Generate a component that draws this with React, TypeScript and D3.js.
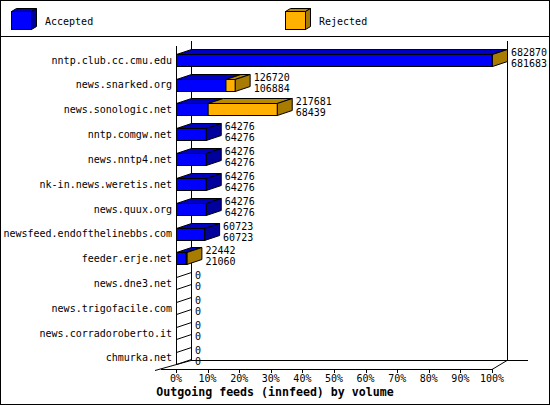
import React from 'react';
import * as d3 from 'd3'

// innfeed outgoing feeds, volume per peer
const hosts = [
  'nntp.club.cc.cmu.edu',
  'news.snarked.org',
  'news.sonologic.net',
  'nntp.comgw.net',
  'news.nntp4.net',
  'nk-in.news.weretis.net',
  'news.quux.org',
  'newsfeed.endofthelinebbs.com',
  'feeder.erje.net',
  'news.dne3.net',
  'news.trigofacile.com',
  'news.corradoroberto.it',
  'chmurka.net',
]
const offered = [682870, 126720, 217681, 64276, 64276, 64276, 64276, 60723, 22442, 0, 0, 0, 0]
const accepted = [681683, 106884, 68439, 64276, 64276, 64276, 64276, 60723, 21060, 0, 0, 0, 0]
const percentTicks = [0, 10, 20, 30, 40, 50, 60, 70, 80, 90, 100]
const seriesNames = ['Accepted', 'Rejected']

const W = 550
const H = 405
const FONT = '"DejaVu Sans Mono", monospace'
const DX = 15
const DY = 5
const colors = [
  { front: '#0000ff', top: '#0000c4', side: '#00009c' },
  { front: '#ffb000', top: '#b88a00', side: '#a87c00' },
]

interface IProps {}
interface IState {}
let chartRef: any = ''

class App extends React.Component<IProps, IState> {
  componentDidMount() {
    document.body.style.margin = '0'
    const svg = d3.select(chartRef).attr('width', W).attr('height', H)
    svg.selectAll('*').remove()

    //外框
    svg.append('rect').attr('x', 0.5).attr('y', 0.5).attr('width', W - 1).attr('height', H - 1)
      .attr('fill', '#fff').attr('stroke', '#000')
    svg.append('line').attr('x1', 0).attr('x2', W).attr('y1', 36.5).attr('y2', 36.5).attr('stroke', '#000')

    //图例
    const legendX = [11, 285]
    seriesNames.forEach((name, i) => {
      const x = legendX[i] + 0.5, y = 11.5, w = 20, h = 18, dx = 5, dy = 3
      const c = colors[i]
      svg.append('polygon')
        .attr('points', [[x, y], [x + dx, y - dy], [x + w + dx, y - dy], [x + w, y]].join(' '))
        .attr('fill', c.top).attr('stroke', '#000')
      svg.append('polygon')
        .attr('points', [[x + w, y], [x + w + dx, y - dy], [x + w + dx, y + h - dy], [x + w, y + h]].join(' '))
        .attr('fill', c.side).attr('stroke', '#000')
      svg.append('rect').attr('x', x).attr('y', y).attr('width', w).attr('height', h)
        .attr('fill', c.front).attr('stroke', '#000')
      svg.append('text').attr('x', legendX[i] + 34).attr('y', 25)
        .attr('font-family', FONT).attr('font-size', 10).text(name)
    })

    //比例尺
    const left = 176, right = 492, top = 46, bottom = 365
    const xscale = d3.scaleLinear().domain([0, d3.max(offered) as number]).range([left, right])
    const pscale = d3.scaleLinear().domain([0, 100]).range([left, right])
    // 行间距 ~24.8px, 第一行中心 y=60
    const yscale = d3.scaleBand().domain(hosts).range([top, 372]).paddingInner(0.5).paddingOuter(0.314)

    //3D 坐标框
    const axis = svg.append('g').attr('stroke', '#000').attr('fill', 'none')
    const ln = (x1, y1, x2, y2) => axis.append('line')
      .attr('x1', x1).attr('y1', y1).attr('x2', x2).attr('y2', y2)
    ln(left + 0.5, top, left + 0.5, bottom)
    ln(left + DX + 0.5, top - DY, left + DX + 0.5, bottom - DY)
    ln(right + DX + 0.5, top - DY, right + DX + 0.5, bottom - DY)
    ln(left + DX, bottom - DY + 0.5, 528, bottom - DY + 0.5)
    ln(155, 370.5, left + DX, bottom - DY + 0.5)
    ln(161, 369.5, right, 369.5)
    ln(right, 369.5, right + DX, bottom - DY + 0.5)
    percentTicks.forEach(p => {
      ln(Math.round(pscale(p)) + 0.5, 369, Math.round(pscale(p)) + 0.5, 373)
    })
    svg.append('g').selectAll('text').data(percentTicks).enter().append('text')
      .attr('x', d => pscale(d)).attr('y', 382).attr('text-anchor', 'middle')
      .attr('font-family', FONT).attr('font-size', 10)
      .text(d => d + '%')

    //类别标签
    const bw = yscale.bandwidth()
    svg.append('g').selectAll('text').data(hosts).enter().append('text')
      .attr('x', 172).attr('y', d => (yscale(d) as number) + bw / 2 + 3.5)
      .attr('text-anchor', 'end').attr('font-family', FONT).attr('font-size', 10)
      .text(d => d)

    //3D 柱
    const bars = svg.append('g').attr('stroke', '#000')
    hosts.forEach((h, i) => {
      const y0 = Math.round(yscale(h) as number) + 0.5
      const y1 = y0 + Math.round(bw)
      const segs = [[0, accepted[i]], [accepted[i], offered[i]]]
      if (offered[i] === 0) {
        bars.append('line').attr('x1', left + 0.5).attr('y1', y0).attr('x2', left + DX + 0.5).attr('y2', y0 - DY)
        bars.append('line').attr('x1', left + 0.5).attr('y1', y1).attr('x2', left + DX + 0.5).attr('y2', y1 - DY)
      } else {
        let lastSeg = 0
        segs.forEach((s, k) => { if (s[1] > s[0]) lastSeg = k })
        segs.forEach((s, k) => {
          if (s[1] <= s[0]) return
          const xa = xscale(s[0]) + 0.5, xb = xscale(s[1]) + 0.5
          const c = colors[k]
          bars.append('polygon')
            .attr('points', [[xa, y0], [xa + DX, y0 - DY], [xb + DX, y0 - DY], [xb, y0]].join(' '))
            .attr('fill', c.top)
          if (k === lastSeg) {
            bars.append('polygon')
              .attr('points', [[xb, y0], [xb + DX, y0 - DY], [xb + DX, y1 - DY], [xb, y1]].join(' '))
              .attr('fill', c.side)
          }
          bars.append('rect').attr('x', xa).attr('y', y0).attr('width', xb - xa).attr('height', y1 - y0)
            .attr('fill', c.front)
        })
      }
      //数值
      const tx = xscale(offered[i]) + DX + 4
      svg.append('text').attr('x', tx).attr('y', y0 + 1)
        .attr('font-family', FONT).attr('font-size', 10).text(offered[i])
      svg.append('text').attr('x', tx).attr('y', y1 + 0.5)
        .attr('font-family', FONT).attr('font-size', 10).text(accepted[i])
    })

    //标题
    svg.append('text').attr('x', W / 2).attr('y', 396).attr('text-anchor', 'middle')
      .attr('font-family', FONT).attr('font-size', 11.6).attr('font-weight', 'bold')
      .text('Outgoing feeds (innfeed) by volume')
  }

  render() {
    return (
      <div style={{ width: W, height: H }}>
        <svg style={{ display: 'block' }} ref={r => (chartRef = r)} />
      </div>
    );
  }
}

export default App;
